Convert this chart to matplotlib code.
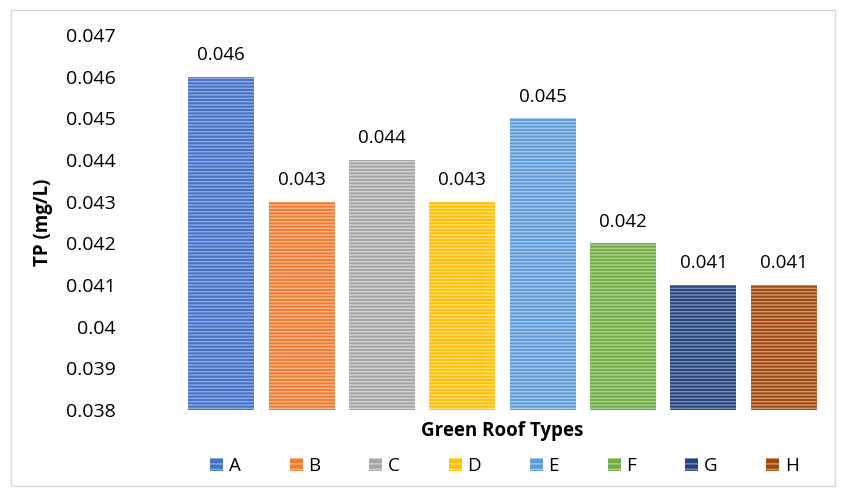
import matplotlib.pyplot as plt
import matplotlib.patches as mpatches
import numpy as np

categories = ["A", "B", "C", "D", "E", "F", "G", "H"]
tp_values = [0.046, 0.043, 0.044, 0.043, 0.045, 0.042, 0.041, 0.041]
yticks = [0.038, 0.039, 0.04, 0.041, 0.042, 0.043, 0.044, 0.045, 0.046, 0.047]
ytick_labels = ["0.038", "0.039", "0.04", "0.041", "0.042", "0.043",
                "0.044", "0.045", "0.046", "0.047"]

face_colors = ["#4472C4", "#ED7D31", "#A5A5A5", "#FFC000",
               "#5B9BD5", "#70AD47", "#264478", "#9E480E"]
stripe_colors = ["#8FAAE0", "#F6B58A", "#D4D4D4", "#FFDD80",
                 "#A6C8EA", "#A9D38C", "#7A8FB8", "#D29A72"]

plt.rcParams["font.family"] = ["Open Sans", "DejaVu Sans"]
plt.rcParams["hatch.linewidth"] = 1.0

fig = plt.figure(figsize=(8.41, 4.91), dpi=100)
ax = fig.add_axes([181 / 841, 1 - 410 / 491, (824 - 181) / 841, (410 - 35) / 491])

x = np.arange(len(categories))
base = 0.038
for i, (val, fc, sc) in enumerate(zip(tp_values, face_colors, stripe_colors)):
    ax.bar(x[i], val - base, bottom=base, width=0.82, color=fc, linewidth=0)
    ax.bar(x[i], val - base, bottom=base, width=0.82, facecolor="none",
           edgecolor=sc, hatch="-----", linewidth=0)
    ax.text(x[i], val + 0.0003, f"{val:.3f}", ha="center", va="bottom", fontsize=13.5)

ax.set_xlim(-0.5, len(categories) - 0.5)
ax.set_ylim(0.038, 0.047)
ax.set_yticks(yticks)
ax.set_yticklabels(ytick_labels, fontsize=14)
ax.tick_params(axis="y", length=0, pad=47)
ax.set_xticks([])
for s in ax.spines.values():
    s.set_visible(False)

ax.set_ylabel("TP (mg/L)", fontsize=13.5, fontweight="bold", labelpad=9)
ax.set_xlabel("Green Roof Types", fontsize=13.5, fontweight="bold", labelpad=8)

handles = [mpatches.Patch(facecolor=fc, edgecolor=sc, hatch="---", linewidth=0)
           for fc, sc in zip(face_colors, stripe_colors)]
fig.legend(handles, categories, loc="center", bbox_to_anchor=(0.6, 1 - 466 / 491),
           ncol=8, frameon=False, fontsize=13.5, handlelength=0.7, handleheight=0.7,
           handletextpad=0.3, columnspacing=2.6)

fig.patches.append(mpatches.Rectangle((11 / 841, 1 - 486 / 491), 824 / 841, 476 / 491,
                                      transform=fig.transFigure, fill=False,
                                      edgecolor="#D9D9D9", linewidth=1))

fig.savefig("out.png", dpi=100)
